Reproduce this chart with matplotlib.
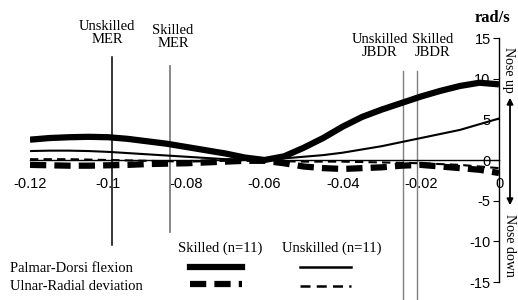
import matplotlib
matplotlib.use("Agg")
import matplotlib.pyplot as plt
from matplotlib.lines import Line2D
import numpy as np

W, H = 518, 300

# ---- data ----
t = [-0.120, -0.115, -0.110, -0.105, -0.100, -0.095, -0.090, -0.085, -0.080,
     -0.075, -0.070, -0.065, -0.060, -0.055, -0.050, -0.045, -0.040, -0.035,
     -0.030, -0.025, -0.020, -0.015, -0.010, -0.005, 0.000]
skilled_pd = [2.5, 2.7, 2.8, 2.85, 2.8, 2.6, 2.3, 2.0, 1.6, 1.2, 0.8, 0.3, 0.0,
              0.45, 1.5, 2.7, 4.1, 5.3, 6.2, 7.0, 7.8, 8.5, 9.1, 9.5, 9.3]
unskilled_pd = [1.1, 1.15, 1.15, 1.1, 1.0, 0.85, 0.7, 0.55, 0.4, 0.25, 0.1, 0.0, 0.05,
                0.2, 0.4, 0.6, 0.9, 1.3, 1.7, 2.2, 2.7, 3.2, 3.7, 4.4, 5.1]
skilled_ur = [-0.6, -0.65, -0.7, -0.7, -0.65, -0.6, -0.5, -0.45, -0.4, -0.3, -0.2,
              -0.1, -0.1, -0.4, -0.8, -1.0, -1.1, -1.0, -0.9, -0.7, -0.6, -0.8,
              -1.0, -1.2, -1.6]
t_u = [-0.12, -0.11, -0.10, -0.09, -0.08, -0.07, -0.06, -0.05, -0.04, -0.03,
       -0.02, -0.01, 0.0]
unskilled_ur = [0.1, 0.1, 0.0, -0.1, -0.2, -0.1, -0.1, -0.2, -0.2, -0.3, -0.4,
                -0.6, -1.0]

events = ["Unskilled\nMER", "Skilled\nMER", "Unskilled\nJBDR", "Skilled\nJBDR"]
event_t = [-0.0991, -0.0843, -0.0245, -0.0209]

xticks = [-0.12, -0.1, -0.08, -0.06, -0.04, -0.02, 0]
xticklabels = ["-0.12", "-0.1", "-0.08", "-0.06", "-0.04", "-0.02", "0"]
yticks = [15, 10, 5, 0, -5, -10, -15]

fig = plt.figure(figsize=(W / 100, H / 100), dpi=100)

def fx(x):
    return x / W

def fy(y):
    return 1 - y / H

ax = fig.add_axes([fx(30), fy(282), fx(499) - fx(30), fy(38) - fy(282)])
ax.set_xlim(-0.12, 0)
ax.set_ylim(-15, 15)

for s in ["top", "right"]:
    ax.spines[s].set_visible(False)
ax.spines["left"].set_position(("data", 0))
ax.spines["bottom"].set_position(("data", 0))
ax.spines["left"].set_linewidth(1.0)
ax.spines["bottom"].set_linewidth(1.0)

ax.set_xticks(xticks)
ax.set_xticklabels(xticklabels, family="Liberation Sans", fontsize=10.5)
ax.tick_params(axis="x", length=0, pad=12)
ax.set_yticks(yticks)
ax.set_yticklabels([str(v) for v in yticks], family="Liberation Sans", fontsize=10.5)
ax.tick_params(axis="y", direction="out", length=4, pad=2)

# curves
ax.plot(t, skilled_pd, color="black", lw=4.5, solid_capstyle="butt", zorder=3)
ax.plot(t, unskilled_pd, color="black", lw=1.5, zorder=3)
ax.plot(t, skilled_ur, color="black", lw=4.5, dashes=(2.6, 1.3), zorder=3)
ax.plot(t_u, unskilled_ur, color="black", lw=1.5, dashes=(4, 2.5), zorder=3)

# event lines
ev_top = [12.7, 11.6, 10.9, 10.9]
ev_bot = [-10.4, -8.9, -17.9, -17.9]
ev_col = ["black", "#7f7f7f", "#7f7f7f", "#7f7f7f"]
ev_lw = [1.1, 1.3, 1.0, 1.0]
for xe, y0, y1, c, lw in zip(event_t, ev_top, ev_bot, ev_col, ev_lw):
    ax.plot([xe, xe], [y0, y1], color=c, lw=lw, clip_on=False, zorder=2)

serif = "Liberation Serif"
label_pos = [(107, 33), (173, 37), (380, 46), (433, 46)]
for txt, (x, y) in zip(events, label_pos):
    fig.text(fx(x), fy(y), txt, ha="center", va="center", family=serif,
             fontsize=10.5, linespacing=0.95)

fig.text(fx(492), fy(18), "rad/s", ha="center", va="center", family=serif,
         fontsize=12, fontweight="bold")
fig.text(fx(509), fy(70), "Nose up", ha="center", va="center", rotation=-90,
         family=serif, fontsize=10)
fig.text(fx(509), fy(245), "Nose down", ha="center", va="center", rotation=-90,
         family=serif, fontsize=10)
fig.patches.append(matplotlib.patches.FancyArrowPatch(
    (fx(510), fy(95)), (fx(510), fy(208)), transform=fig.transFigure,
    arrowstyle="<|-|>", mutation_scale=9, lw=1.3, color="black"))

# legend
fig.text(fx(220), fy(248), "Skilled (n=11)", ha="center", va="center", family=serif, fontsize=10.5)
fig.text(fx(332), fy(248), "Unskilled (n=11)", ha="center", va="center", family=serif, fontsize=10.5)
fig.text(fx(10), fy(268), "Palmar-Dorsi flexion", ha="left", va="center", family=serif, fontsize=10.5)
fig.text(fx(10), fy(287), "Ulnar-Radial deviation", ha="left", va="center", family=serif, fontsize=10.5)

fig.lines.append(Line2D([fx(190), fx(242)], [fy(267), fy(267)], transform=fig.transFigure,
                        color="black", lw=4.5))
fig.lines.append(Line2D([fx(190), fx(242)], [fy(284), fy(284)], transform=fig.transFigure,
                        color="black", lw=4.5, dashes=(2.6, 1.3)))
fig.lines.append(Line2D([fx(300), fx(351)], [fy(267), fy(267)], transform=fig.transFigure,
                        color="black", lw=1.8))
fig.lines.append(Line2D([fx(300), fx(351)], [fy(286), fy(286)], transform=fig.transFigure,
                        color="black", lw=1.8, dashes=(4, 2.5)))

fig.savefig("out.png", dpi=100)
